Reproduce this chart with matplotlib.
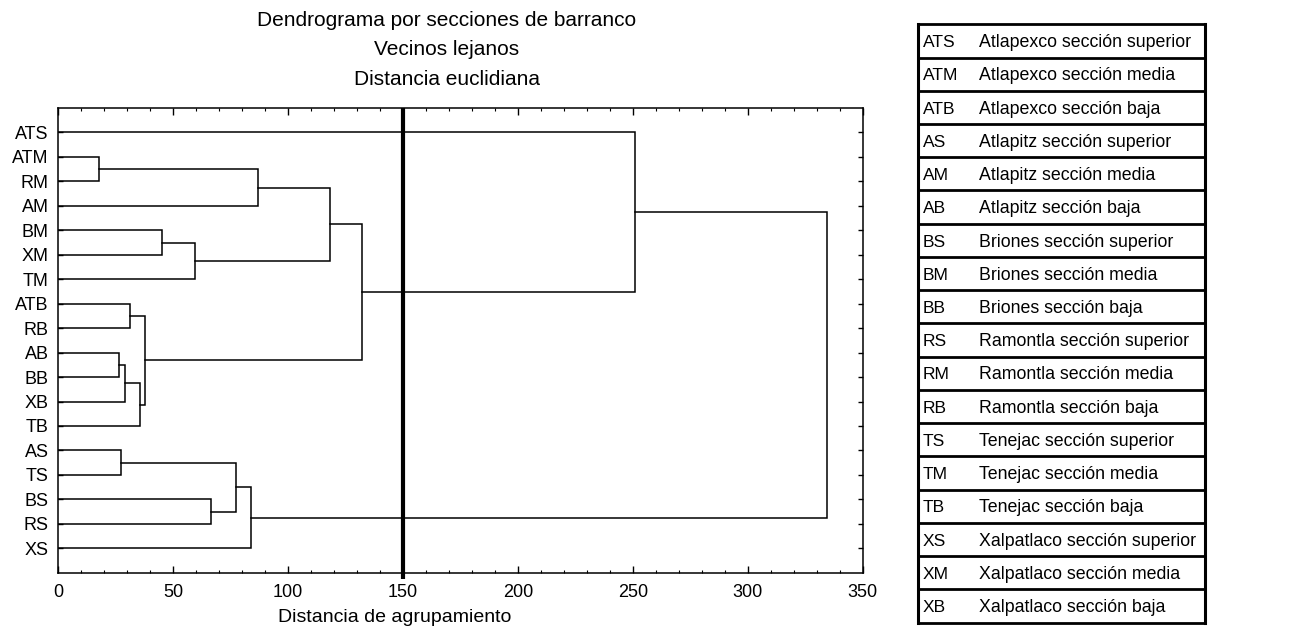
import numpy as np
import matplotlib
matplotlib.use('Agg')
import matplotlib.pyplot as plt
from matplotlib.ticker import MultipleLocator

plt.rcParams['font.family'] = ['Liberation Sans', 'DejaVu Sans']

# leaves, top to bottom as drawn
leaves = ['ATS', 'ATM', 'RM', 'AM', 'BM', 'XM', 'TM', 'ATB', 'RB', 'AB',
          'BB', 'XB', 'TB', 'AS', 'TS', 'BS', 'RS', 'XS']

# merges (left child, right child, linkage distance); ints refer to earlier merges
merges = [
    ('ATM', 'RM', 17.6),    # 0
    (0, 'AM', 87.1),        # 1
    ('BM', 'XM', 45.0),     # 2
    (2, 'TM', 59.6),        # 3
    (1, 3, 118.1),          # 4
    ('ATB', 'RB', 31.0),    # 5
    ('AB', 'BB', 26.3),     # 6
    (6, 'XB', 28.9),        # 7
    (7, 'TB', 35.7),        # 8
    (5, 8, 37.7),           # 9
    (4, 9, 132.3),          # 10
    ('ATS', 10, 250.8),     # 11
    ('AS', 'TS', 27.3),     # 12
    ('BS', 'RS', 66.5),     # 13
    (12, 13, 77.1),         # 14
    (14, 'XS', 83.9),       # 15
    (11, 15, 334.3),        # 16
]

cut_distance = 150

titles = ['Dendrograma por secciones de barranco', 'Vecinos lejanos',
          'Distancia euclidiana']
xlabel = 'Distancia de agrupamiento'

legend_codes = ['ATS', 'ATM', 'ATB', 'AS', 'AM', 'AB', 'BS', 'BM', 'BB',
                'RS', 'RM', 'RB', 'TS', 'TM', 'TB', 'XS', 'XM', 'XB']
legend_names = ['Atlapexco sección superior', 'Atlapexco sección media',
                'Atlapexco sección baja', 'Atlapitz sección superior',
                'Atlapitz sección media', 'Atlapitz sección baja',
                'Briones sección superior', 'Briones sección media',
                'Briones sección baja', 'Ramontla sección superior',
                'Ramontla sección media', 'Ramontla sección baja',
                'Tenejac sección superior', 'Tenejac sección media',
                'Tenejac sección baja', 'Xalpatlaco sección superior',
                'Xalpatlaco sección media', 'Xalpatlaco sección baja']


def node_pos(node, pos, height):
    # returns (y position, distance) for a leaf or merge index
    if isinstance(node, str):
        return leaves.index(node), 0.0
    return pos[node], height[node]


fig = plt.figure(figsize=(13.07, 6.35), dpi=100)
ax = fig.add_axes([0.0446, 0.0981, 0.6155, 0.7318])

lc = 'black'
lw = 1.1
pos, height = {}, {}
for i, (a, b, d) in enumerate(merges):
    ya, da = node_pos(a, pos, height)
    yb, db = node_pos(b, pos, height)
    ax.plot([da, d, d, db], [ya, ya, yb, yb], color=lc, lw=lw,
            solid_joinstyle='miter')
    pos[i] = (ya + yb) / 2.0
    height[i] = d

ax.plot([cut_distance, cut_distance], [-1, len(leaves) + 0.25], color='black',
        lw=3, clip_on=False, solid_capstyle='butt')

ax.set_xlim(0, 350)
ax.set_ylim(len(leaves), -1)
ax.set_yticks(range(len(leaves)))
ax.set_yticklabels(leaves)
ax.xaxis.set_major_locator(MultipleLocator(50))
ax.xaxis.set_minor_locator(MultipleLocator(10))
ax.tick_params(axis='x', which='major', direction='in', length=5, width=1,
               top=True, labelsize=13, pad=8)
ax.tick_params(axis='x', which='minor', direction='in', length=2.5, width=0.8,
               top=True)
ax.tick_params(axis='y', which='major', direction='in', length=3.5, width=1,
               right=True, labelsize=13, pad=7)
for sp in ax.spines.values():
    sp.set_linewidth(1.1)

fig.text(0.302, 0.027, xlabel, ha='center', va='center', fontsize=14)

for k, t in enumerate(titles):
    fig.text(0.342, 0.9685 - k * 0.0465, t, ha='center', va='center',
             fontsize=15)

# legend table on the right
lax = fig.add_axes([0.7024, 0.0194, 0.2196, 0.9424])
lax.set_xlim(0, 1)
lax.set_ylim(len(legend_codes), 0)
lax.axis('off')
n = len(legend_codes)
for r in range(n + 1):
    lax.plot([0, 1], [r, r], color='black', lw=2.0, clip_on=False,
             solid_capstyle='projecting')
for xx in (0, 1):
    lax.plot([xx, xx], [0, n], color='black', lw=2.2, clip_on=False,
             solid_capstyle='projecting')
for r, (code, name) in enumerate(zip(legend_codes, legend_names)):
    lax.text(0.016, r + 0.55, code, ha='left', va='center', fontsize=12.5)
    lax.text(0.212, r + 0.55, name, ha='left', va='center', fontsize=12.8)

fig.savefig('out.png', dpi=100)
